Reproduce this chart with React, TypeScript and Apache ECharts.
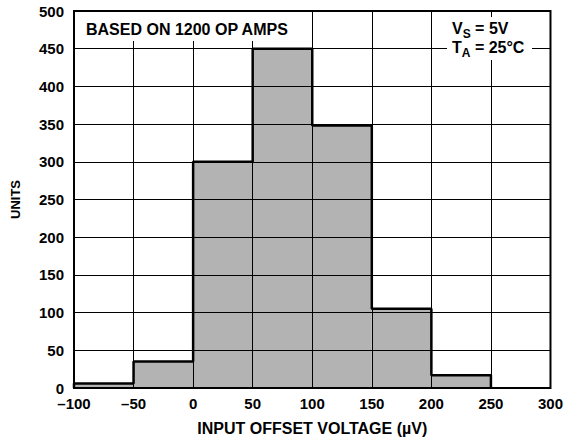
import React, { useEffect, useRef } from "react";
import * as echarts from "echarts";

const binStarts = [-100, -50, 0, 50, 100, 150, 200, 250];
const binWidth = 50;
const counts = [6, 35, 300, 450, 348, 105, 17, 0];
const xTicks = [-100, -50, 0, 50, 100, 150, 200, 250, 300];
const yTicks = [0, 50, 100, 150, 200, 250, 300, 350, 400, 450, 500];

const FONT = "'Liberation Sans', Arial, sans-serif";

export default function App() {
  const ref = useRef<HTMLDivElement>(null);
  useEffect(() => {
    if (!ref.current) return;
    const chart = echarts.init(ref.current, undefined, { renderer: "svg" });
    const bars = binStarts.map((s, i) => [s, s + binWidth, counts[i]]);
    const outline: number[][] = [];
    binStarts.forEach((s, i) => {
      if (i === 0) outline.push([s, 0]);
      outline.push([s, counts[i]]);
      outline.push([s + binWidth, counts[i]]);
    });
    const lastNZ = counts.reduce((a, c, i) => (c > 0 ? i : a), 0);
    const outlinePts = outline.slice(0, 1 + (lastNZ + 1) * 2);
    outlinePts.push([binStarts[lastNZ] + binWidth, 0]);

    chart.setOption({
      animation: false,
      backgroundColor: "#fff",
      grid: {
        left: 74,
        right: 13,
        top: 11,
        bottom: 52,
        show: true,
        borderColor: "#000",
        borderWidth: 2,
        backgroundColor: "transparent",
        z: 5,
      },
      xAxis: {
        type: "value",
        min: -100,
        max: 300,
        interval: 50,
        z: 2,
        name: "INPUT OFFSET VOLTAGE (µV)",
        nameLocation: "middle",
        nameGap: 32,
        nameTextStyle: { fontFamily: FONT, fontWeight: "bold", fontSize: 16, color: "#000" },
        axisLine: { show: false },
        axisTick: { show: false },
        axisLabel: {
          margin: 8,
          fontFamily: FONT,
          fontWeight: "bold",
          fontSize: 15,
          color: "#000",
          formatter: (v: number) => (xTicks.includes(v) ? String(v).replace("-", "–") : ""),
        },
        splitLine: { show: true, lineStyle: { color: "#000", width: 1 } },
      },
      yAxis: {
        type: "value",
        min: 0,
        max: 500,
        interval: 50,
        z: 2,
        name: "UNITS",
        nameLocation: "middle",
        nameGap: 52,
        nameTextStyle: { fontFamily: FONT, fontWeight: "bold", fontSize: 13, color: "#000" },
        axisLine: { show: false },
        axisTick: { show: false },
        axisLabel: {
          margin: 10,
          fontFamily: FONT,
          fontWeight: "bold",
          fontSize: 15,
          color: "#000",
          formatter: (v: number) => (yTicks.includes(v) ? String(v) : ""),
        },
        splitLine: { show: true, lineStyle: { color: "#000", width: 1 } },
      },
      series: [
        {
          type: "custom",
          z: 1,
          data: bars,
          renderItem: (params: any, api: any) => {
            const p0 = api.coord([api.value(0), api.value(2)]);
            const p1 = api.coord([api.value(1), 0]);
            return {
              type: "rect",
              shape: { x: p0[0], y: p0[1], width: p1[0] - p0[0], height: p1[1] - p0[1] },
              style: { fill: "#b3b3b3", stroke: null },
            };
          },
        },
        {
          type: "line",
          z: 4,
          data: outlinePts,
          symbol: "none",
          lineStyle: { color: "#000", width: 2.5 },
          silent: true,
        },
      ],
      graphic: [
        {
          type: "rect",
          z: 10,
          shape: { x: 75, y: 12, width: 237, height: 29 },
          style: { fill: "#fff" },
        },
        {
          type: "text",
          z: 11,
          x: 86,
          y: 29,
          style: {
            text: "BASED ON 1200 OP AMPS",
            fontFamily: FONT,
            fontWeight: "bold",
            fontSize: 16,
            fill: "#000",
            verticalAlign: "middle",
          },
        },
        {
          type: "rect",
          z: 10,
          shape: { x: 447, y: 17, width: 85, height: 43 },
          style: { fill: "#fff" },
        },
        {
          type: "text",
          z: 11,
          x: 452,
          y: 17,
          style: {
            text: "{a|V}{s|S}{a| = 5V}\n{a|T}{s|A}{a| = 25°C}",
            rich: {
              a: { fontFamily: FONT, fontWeight: "bold", fontSize: 16, fill: "#000", lineHeight: 19, verticalAlign: "bottom" },
              s: { fontFamily: FONT, fontWeight: "bold", fontSize: 12, fill: "#000", lineHeight: 19, verticalAlign: "bottom", padding: [0, 0, -4, 0] },
            },
          },
        },
      ],
    });
    return () => chart.dispose();
  }, []);
  return <div ref={ref} style={{ width: 566, height: 441, position: "absolute", left: 0, top: 0 }} />;
}
